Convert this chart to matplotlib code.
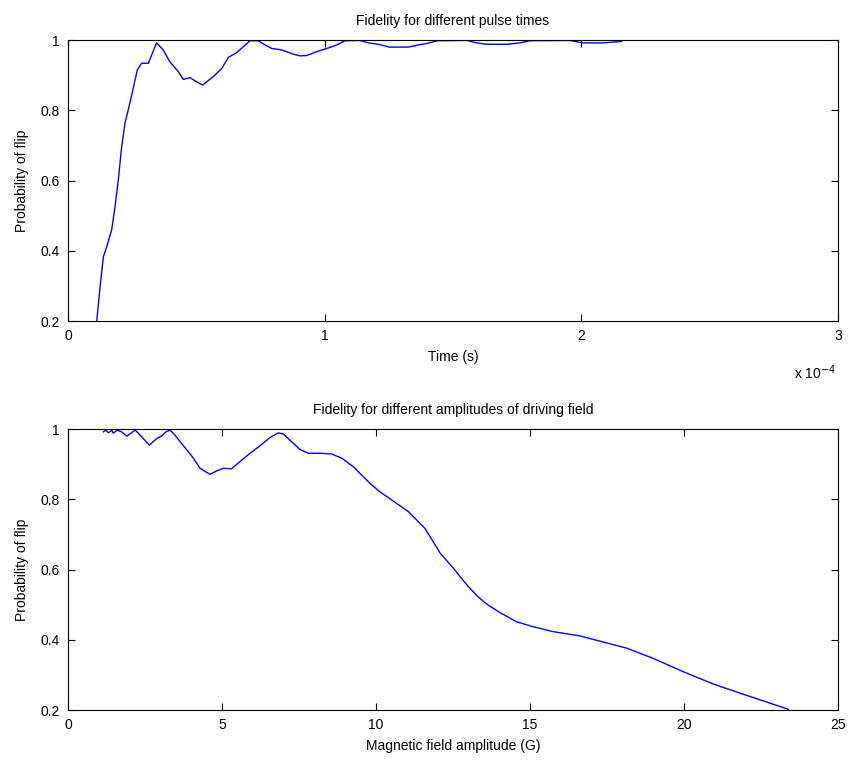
import matplotlib.pyplot as plt
import numpy as np

# Top panel: fidelity vs pulse time (time in units of 1e-4 s)
pulse_time = [0.112, 0.125, 0.138, 0.151, 0.170, 0.183, 0.196, 0.209, 0.222, 0.242,
              0.254, 0.270, 0.287, 0.313, 0.345, 0.371, 0.397, 0.430, 0.449, 0.475,
              0.501, 0.525, 0.566, 0.599, 0.625, 0.657, 0.683, 0.709, 0.741, 0.761,
              0.794, 0.832, 0.878, 0.904, 0.930, 0.969, 1.008, 1.047, 1.079, 1.137,
              1.170, 1.209, 1.252, 1.326, 1.365, 1.397, 1.439, 1.553, 1.592, 1.631,
              1.709, 1.761, 1.800, 1.956, 2.006, 2.084, 2.157]
pulse_prob = [0.200, 0.298, 0.383, 0.412, 0.459, 0.525, 0.601, 0.696, 0.763, 0.824,
              0.862, 0.915, 0.934, 0.934, 0.992, 0.972, 0.938, 0.910, 0.888, 0.893,
              0.881, 0.872, 0.896, 0.919, 0.951, 0.964, 0.981, 0.998, 0.998, 0.989,
              0.976, 0.972, 0.960, 0.955, 0.956, 0.967, 0.976, 0.986, 0.998, 0.999,
              0.992, 0.988, 0.980, 0.980, 0.986, 0.990, 0.998, 0.999, 0.992, 0.988,
              0.988, 0.992, 0.998, 0.999, 0.992, 0.992, 0.996]

# Bottom panel: fidelity vs driving field amplitude (G)
field_amp = [1.15, 1.23, 1.31, 1.42, 1.47, 1.60, 1.74, 1.91, 2.04, 2.18,
             2.34, 2.64, 2.88, 3.04, 3.18, 3.31, 3.47, 3.64, 3.91, 4.07,
             4.29, 4.61, 4.83, 5.04, 5.31, 5.58, 5.91, 6.23, 6.56, 6.83,
             6.99, 7.26, 7.53, 7.80, 8.18, 8.56, 8.89, 9.26, 9.81, 10.13,
             10.56, 11.05, 11.59, 11.86, 12.08, 12.51, 12.73, 13.0, 13.32, 13.59,
             14.03, 14.57, 15.11, 15.76, 16.62, 17.27, 18.14, 19.0, 19.98, 20.95,
             21.82, 22.47, 23.39]
field_prob = [0.992, 0.997, 0.989, 0.997, 0.988, 0.997, 0.992, 0.980, 0.988, 0.997,
              0.983, 0.954, 0.973, 0.980, 0.992, 0.997, 0.983, 0.964, 0.935, 0.917,
              0.888, 0.871, 0.881, 0.888, 0.887, 0.907, 0.931, 0.952, 0.976, 0.989,
              0.986, 0.964, 0.942, 0.931, 0.931, 0.929, 0.917, 0.893, 0.845, 0.821,
              0.795, 0.765, 0.717, 0.679, 0.647, 0.604, 0.580, 0.551, 0.522, 0.502,
              0.477, 0.451, 0.437, 0.423, 0.411, 0.396, 0.376, 0.347, 0.309, 0.274,
              0.248, 0.229, 0.202]

plt.rcParams['font.family'] = ['Liberation Sans', 'DejaVu Sans']
plt.rcParams['font.size'] = 10

fig = plt.figure(figsize=(8.51, 7.66), dpi=100)
ax1 = fig.add_axes([0.0799, 0.5809, 0.9048, 0.3668])
ax2 = fig.add_axes([0.0799, 0.0731, 0.9048, 0.3668])


def style_axes(ax):
    ax.tick_params(direction='in', top=True, right=True, length=5, width=0.8,
                   labelsize=10, pad=6)
    for s in ax.spines.values():
        s.set_linewidth(0.8)


t = np.array(pulse_time) * 1e-4
ax1.plot(t, pulse_prob, color='#0000ff', linewidth=1)
ax1.set_xlim(0, 3e-4)
ax1.set_ylim(0.2, 1)
ax1.set_xticks([0, 1e-4, 2e-4, 3e-4])
ax1.set_xticklabels(['0', '1', '2', '3'])
ax1.set_yticks([0.2, 0.4, 0.6, 0.8, 1])
ax1.set_yticklabels(['0.2', '0.4', '0.6', '0.8', '1'])
ax1.set_title('Fidelity for different pulse times', fontsize=10, pad=11)
ax1.set_xlabel('Time (s)', labelpad=5)
ax1.set_ylabel('Probability of flip', labelpad=8)
ax1.text(0.998, -0.15, 'x 10$^{-4}$', transform=ax1.transAxes, ha='right', va='top',
         fontsize=10)
style_axes(ax1)

ax2.plot(field_amp, field_prob, color='#0000ff', linewidth=1)
ax2.set_xlim(0, 25)
ax2.set_ylim(0.2, 1)
ax2.set_xticks([0, 5, 10, 15, 20, 25])
ax2.set_yticks([0.2, 0.4, 0.6, 0.8, 1])
ax2.set_yticklabels(['0.2', '0.4', '0.6', '0.8', '1'])
ax2.set_title('Fidelity for different amplitudes of driving field', fontsize=10, pad=11)
ax2.set_xlabel('Magnetic field amplitude (G)', labelpad=5)
ax2.set_ylabel('Probability of flip', labelpad=8)
style_axes(ax2)

fig.savefig('out.png', dpi=100)
